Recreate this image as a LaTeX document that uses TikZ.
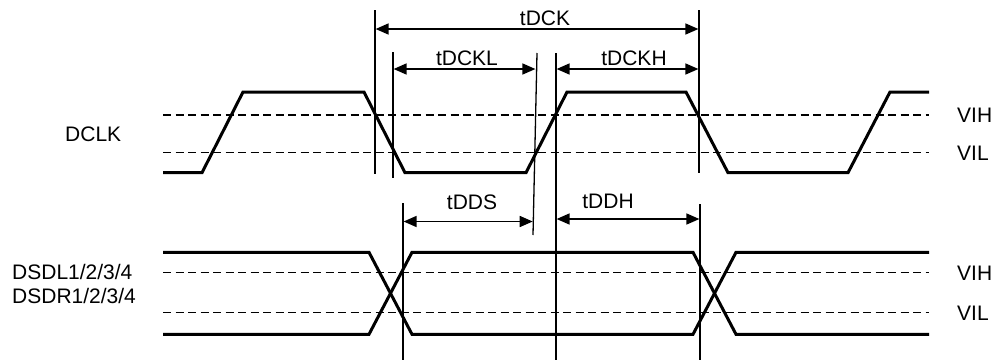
\documentclass[tikz,border=0pt]{standalone}
\usepackage{fontspec}
\setmainfont{Liberation Sans}
\usetikzlibrary{arrows.meta}
\begin{document}
\begin{tikzpicture}[x=1pt,y=-1pt,
  sig/.style={line width=3pt, line join=miter},
  vline/.style={line width=1.3pt},
  ref/.style={line width=1.2pt, dash pattern=on 8pt off 4.5pt},
  dim/.style={line width=1.6pt, {Triangle[length=13pt,width=11pt]}-{Triangle[length=13pt,width=11pt]}, shorten <=0.6pt, shorten >=0.6pt},
  lbl/.style={font=\fontsize{21}{25}\selectfont, inner sep=0pt}]
\useasboundingbox (0,0) rectangle (999,362);

% reference levels
\draw[ref] (163,115) -- (929,115);
\draw[ref] (163,152.7) -- (929,152.7);
\draw[ref] (163,272.7) -- (929,272.7);
\draw[ref] (163,312.7) -- (929,312.7);

% DCLK waveform
\draw[sig] (163,172.7) -- (202,172.7) -- (243,92) -- (364,92) -- (405,172.7)
  -- (526,172.7) -- (567,92) -- (686,92) -- (728,172.7) -- (848,172.7)
  -- (890,92) -- (929,92);

% data waveform
\draw[sig] (163,252.3) -- (369,252.3) -- (412,334.3) -- (693,334.3) -- (736,252.3) -- (929,252.3);
\draw[sig] (163,334.3) -- (369,334.3) -- (412,252.3) -- (693,252.3) -- (736,334.3) -- (929,334.3);

% vertical reference lines
\coordinate (v1t) at (375,10);   \coordinate (v1b) at (375,174);
\coordinate (v2t) at (393,52);   \coordinate (v2b) at (393,178);
\coordinate (v3t) at (537,53);   \coordinate (v3b) at (533,235);
\coordinate (v4t) at (556,53);   \coordinate (v4b) at (556,360);
\coordinate (v5t) at (699,10);   \coordinate (v5b) at (699,173);
\coordinate (v6t) at (403,203);  \coordinate (v6b) at (403,360);
\coordinate (v7t) at (700,204);  \coordinate (v7b) at (700,360);
\foreach \v in {1,...,7} \draw[vline] (v\v t) -- (v\v b);

% dimension arrows
\coordinate (aK1) at (375,29);    \coordinate (aK2) at (699,29);
\coordinate (aL1) at (393,69);    \coordinate (aL2) at (536,69);
\coordinate (aH1) at (556,69);    \coordinate (aH2) at (699,69);
\coordinate (aS1) at (403,221.5); \coordinate (aS2) at (533.3,221.5);
\coordinate (aD1) at (556,219);   \coordinate (aD2) at (700,219);
\draw[dim] (aK1) -- (aK2);
\draw[dim] (aL1) -- (aL2);
\draw[dim] (aH1) -- (aH2);
\draw[dim] (aS1) -- (aS2);
\draw[dim] (aD1) -- (aD2);

% labels
\node[lbl, anchor=base] (tDCK) at (545,25) {tDCK};
\node[lbl, anchor=base] (tDCKL) at (467,65) {tDCKL};
\node[lbl, anchor=base] (tDCKH) at (634,65) {tDCKH};
\node[lbl, anchor=base] (tDDS) at (472,209) {tDDS};
\node[lbl, anchor=base] (tDDH) at (608,208) {tDDH};
\node[lbl, anchor=base west] (dclk) at (65,141) {DCLK};
\node[lbl, anchor=base west] (vih1) at (957,122.5) {VIH};
\node[lbl, anchor=base west] (vil1) at (957,160.2) {VIL};
\node[lbl, anchor=base west] (vih2) at (957,280.2) {VIH};
\node[lbl, anchor=base west] (vil2) at (957,320.2) {VIL};
\node[lbl, anchor=base west] (dsdl) at (12,279) {DSDL1/2/3/4};
\node[lbl, anchor=base west] (dsdr) at (12,303) {DSDR1/2/3/4};
\end{tikzpicture}
\end{document}
